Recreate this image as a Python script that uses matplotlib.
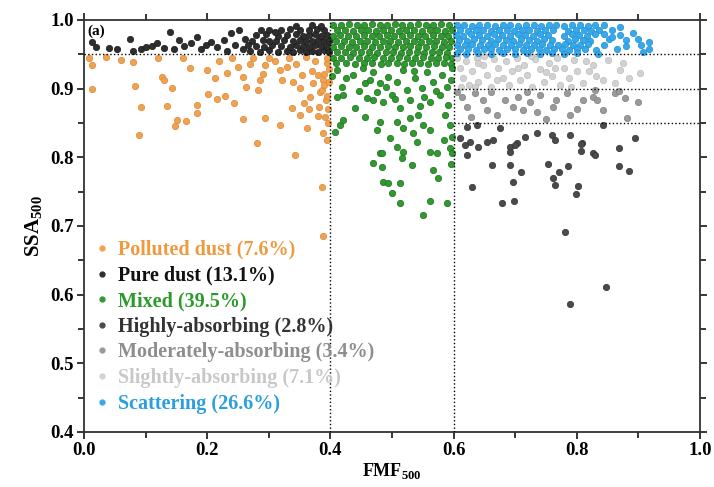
import matplotlib
matplotlib.use("Agg")
import matplotlib.pyplot as plt
from matplotlib.lines import Line2D
from matplotlib.ticker import MultipleLocator, FormatStrFormatter

plt.rcParams['font.family'] = ['Liberation Serif', 'DejaVu Serif']
plt.rcParams['font.weight'] = 'bold'
plt.rcParams['mathtext.fontset'] = 'custom'
plt.rcParams['mathtext.rm'] = 'Liberation Serif:bold'
plt.rcParams['mathtext.bf'] = 'Liberation Serif:bold'

# ---------------- data (FMF500, SSA500) ----------------
POLLUTED = [
    (0.008, 0.944), (0.013, 0.934), (0.013, 0.900), (0.035, 0.946), (0.060, 0.942), (0.080, 0.939),
    (0.083, 0.904), (0.093, 0.873), (0.089, 0.833), (0.120, 0.945), (0.127, 0.917), (0.130, 0.912),
    (0.135, 0.875), (0.143, 0.901), (0.151, 0.854), (0.148, 0.846), (0.160, 0.944), (0.166, 0.853),
    (0.172, 0.930), (0.183, 0.876), (0.184, 0.865), (0.200, 0.927), (0.201, 0.892), (0.213, 0.915),
    (0.216, 0.885), (0.220, 0.940), (0.229, 0.889), (0.232, 0.923), (0.240, 0.945), (0.243, 0.879),
    (0.250, 0.931), (0.258, 0.856), (0.258, 0.917), (0.263, 0.902), (0.270, 0.936), (0.274, 0.944),
    (0.281, 0.821), (0.286, 0.913), (0.282, 0.898), (0.290, 0.921), (0.294, 0.857), (0.294, 0.934),
    (0.300, 0.945), (0.310, 0.940), (0.318, 0.847), (0.321, 0.913), (0.318, 0.927), (0.330, 0.931),
    (0.333, 0.944), (0.339, 0.910), (0.337, 0.872), (0.343, 0.803), (0.345, 0.936), (0.350, 0.862),
    (0.351, 0.901), (0.354, 0.920), (0.357, 0.879), (0.360, 0.946), (0.362, 0.843), (0.365, 0.870),
    (0.367, 0.888), (0.370, 0.926), (0.372, 0.908), (0.375, 0.940), (0.380, 0.860), (0.382, 0.873),
    (0.380, 0.920), (0.383, 0.895), (0.386, 0.898), (0.386, 0.757), (0.388, 0.835), (0.388, 0.913),
    (0.388, 0.686), (0.390, 0.921), (0.391, 0.859), (0.390, 0.905), (0.394, 0.825), (0.394, 0.937),
    (0.393, 0.883), (0.395, 0.945), (0.395, 0.890), (0.396, 0.870), (0.396, 0.850), (0.397, 0.929),
    (0.398, 0.910),
]

PURE = [
    (0.013, 0.968), (0.020, 0.960), (0.041, 0.959), (0.054, 0.957), (0.075, 0.972), (0.079, 0.955),
    (0.093, 0.958), (0.100, 0.960), (0.110, 0.962), (0.119, 0.966), (0.130, 0.959), (0.139, 0.982),
    (0.146, 0.957), (0.154, 0.971), (0.162, 0.962), (0.174, 0.966), (0.183, 0.975), (0.190, 0.957),
    (0.198, 0.963), (0.206, 0.968), (0.216, 0.961), (0.227, 0.971), (0.232, 0.955), (0.239, 0.981),
    (0.245, 0.964), (0.252, 0.986), (0.258, 0.957), (0.262, 0.973),
    (0.270, 0.955), (0.285, 0.953), (0.300, 0.956), (0.315, 0.954), (0.330, 0.955), (0.340, 0.953),
    (0.350, 0.956), (0.360, 0.954), (0.370, 0.955), (0.380, 0.953), (0.390, 0.956), (0.398, 0.954),
    (0.266, 0.963), (0.280, 0.962), (0.292, 0.961), (0.306, 0.963), (0.320, 0.962), (0.335, 0.961),
    (0.345, 0.963), (0.355, 0.962), (0.365, 0.961), (0.375, 0.963), (0.385, 0.962), (0.395, 0.961),
    (0.273, 0.970), (0.290, 0.971), (0.300, 0.969), (0.311, 0.970), (0.325, 0.971), (0.340, 0.969),
    (0.350, 0.971), (0.360, 0.970), (0.370, 0.969), (0.380, 0.971), (0.390, 0.970), (0.398, 0.969),
    (0.280, 0.978), (0.296, 0.979), (0.315, 0.977), (0.330, 0.978), (0.345, 0.979), (0.355, 0.977),
    (0.365, 0.978), (0.375, 0.979), (0.385, 0.977), (0.395, 0.978),
    (0.300, 0.986), (0.320, 0.985), (0.335, 0.987), (0.350, 0.985), (0.365, 0.986), (0.378, 0.987),
    (0.390, 0.985), (0.345, 0.991), (0.370, 0.992), (0.385, 0.991), (0.310, 0.983), (0.287, 0.985),
]

MIXED = [
    # dense upper band
    (0.405, 0.993), (0.418, 0.992), (0.430, 0.994), (0.443, 0.993), (0.455, 0.992), (0.468, 0.994),
    (0.480, 0.993), (0.492, 0.992), (0.505, 0.994), (0.517, 0.993), (0.530, 0.992), (0.542, 0.994),
    (0.555, 0.993), (0.567, 0.992), (0.580, 0.994), (0.592, 0.993),
    (0.410, 0.985), (0.423, 0.986), (0.436, 0.984), (0.449, 0.985), (0.461, 0.986), (0.474, 0.984),
    (0.486, 0.985), (0.498, 0.986), (0.511, 0.984), (0.523, 0.985), (0.536, 0.986), (0.548, 0.984),
    (0.561, 0.985), (0.573, 0.986), (0.586, 0.984), (0.597, 0.985),
    (0.404, 0.977), (0.416, 0.978), (0.429, 0.976), (0.442, 0.977), (0.455, 0.978), (0.467, 0.976),
    (0.479, 0.977), (0.492, 0.978), (0.504, 0.976), (0.517, 0.977), (0.529, 0.978), (0.542, 0.976),
    (0.554, 0.977), (0.566, 0.978), (0.579, 0.976), (0.591, 0.977),
    (0.409, 0.969), (0.422, 0.970), (0.435, 0.968), (0.448, 0.969), (0.460, 0.970), (0.473, 0.968),
    (0.485, 0.969), (0.497, 0.970), (0.510, 0.968), (0.522, 0.969), (0.535, 0.970), (0.547, 0.968),
    (0.560, 0.969), (0.572, 0.970), (0.584, 0.968), (0.596, 0.969),
    (0.405, 0.961), (0.417, 0.962), (0.430, 0.960), (0.442, 0.961), (0.454, 0.962), (0.467, 0.960),
    (0.480, 0.961), (0.493, 0.962), (0.505, 0.960), (0.518, 0.961), (0.530, 0.962), (0.543, 0.960),
    (0.556, 0.961), (0.568, 0.962), (0.581, 0.960), (0.593, 0.961),
    (0.410, 0.953), (0.424, 0.954), (0.437, 0.952), (0.450, 0.953), (0.463, 0.954), (0.476, 0.952),
    (0.490, 0.953), (0.502, 0.954), (0.515, 0.952), (0.527, 0.953), (0.540, 0.954), (0.552, 0.952),
    (0.565, 0.953), (0.577, 0.954), (0.590, 0.952),
    (0.404, 0.945), (0.418, 0.944), (0.432, 0.946), (0.447, 0.945), (0.459, 0.944), (0.471, 0.946),
    (0.486, 0.945), (0.499, 0.944), (0.512, 0.946), (0.524, 0.945), (0.537, 0.944), (0.550, 0.946),
    (0.563, 0.945), (0.575, 0.944), (0.588, 0.946), (0.598, 0.945),
    (0.409, 0.937), (0.426, 0.938), (0.440, 0.936), (0.455, 0.937), (0.468, 0.938), (0.482, 0.936),
    (0.494, 0.937), (0.508, 0.938), (0.520, 0.936), (0.533, 0.937), (0.546, 0.938), (0.558, 0.936),
    (0.571, 0.937), (0.584, 0.938), (0.596, 0.936),
    # medium zone
    (0.410, 0.927), (0.419, 0.902), (0.420, 0.891), (0.437, 0.920), (0.440, 0.872), (0.453, 0.930),
    (0.456, 0.908), (0.459, 0.886), (0.469, 0.924), (0.476, 0.895), (0.481, 0.908), (0.485, 0.881),
    (0.494, 0.917), (0.500, 0.891), (0.508, 0.910), (0.513, 0.872), (0.518, 0.927), (0.524, 0.898),
    (0.529, 0.883), (0.537, 0.916), (0.542, 0.862), (0.549, 0.901), (0.557, 0.924), (0.562, 0.881),
    (0.567, 0.910), (0.578, 0.891), (0.581, 0.920), (0.589, 0.902), (0.591, 0.876), (0.597, 0.930),
    (0.586, 0.862), (0.425, 0.915), (0.447, 0.897), (0.465, 0.912), (0.490, 0.902), (0.535, 0.925),
    (0.552, 0.888), (0.572, 0.897), (0.596, 0.912), (0.403, 0.918), (0.505, 0.885), (0.545, 0.875),
    # sparse lower zone
    (0.456, 0.859), (0.481, 0.851), (0.476, 0.840), (0.508, 0.851), (0.518, 0.843), (0.529, 0.857),
    (0.550, 0.847), (0.562, 0.840), (0.534, 0.835), (0.416, 0.847), (0.407, 0.837), (0.594, 0.847),
    (0.420, 0.854), (0.410, 0.888), (0.469, 0.883), (0.481, 0.806), (0.508, 0.815), (0.518, 0.808),
    (0.516, 0.799), (0.562, 0.808), (0.573, 0.806), (0.594, 0.814), (0.597, 0.806), (0.532, 0.789),
    (0.567, 0.782), (0.484, 0.806), (0.484, 0.786), (0.485, 0.764), (0.494, 0.763), (0.513, 0.763),
    (0.500, 0.748), (0.513, 0.733), (0.562, 0.736), (0.589, 0.733), (0.550, 0.716), (0.469, 0.792),
    (0.598, 0.830), (0.596, 0.790), (0.575, 0.770), (0.585, 0.825), (0.540, 0.822), (0.497, 0.828),
]

SCATTERING = [
    (0.605, 0.992), (0.617, 0.993), (0.630, 0.991), (0.642, 0.992), (0.655, 0.993), (0.667, 0.991),
    (0.680, 0.992), (0.692, 0.993), (0.705, 0.991), (0.717, 0.992), (0.730, 0.993), (0.742, 0.991),
    (0.755, 0.992), (0.767, 0.993), (0.780, 0.991), (0.792, 0.992), (0.805, 0.993), (0.818, 0.991),
    (0.830, 0.992), (0.845, 0.993),
    (0.610, 0.985), (0.623, 0.984), (0.636, 0.986), (0.648, 0.985), (0.661, 0.984), (0.673, 0.986),
    (0.686, 0.985), (0.698, 0.984), (0.711, 0.986), (0.723, 0.985), (0.736, 0.984), (0.748, 0.986),
    (0.761, 0.985), (0.786, 0.984), (0.798, 0.986), (0.811, 0.985), (0.823, 0.984), (0.836, 0.986),
    (0.858, 0.985),
    (0.604, 0.978), (0.616, 0.977), (0.629, 0.979), (0.641, 0.978), (0.654, 0.977), (0.666, 0.979),
    (0.679, 0.978), (0.691, 0.977), (0.704, 0.979), (0.716, 0.978), (0.729, 0.977), (0.741, 0.979),
    (0.754, 0.978), (0.779, 0.977), (0.792, 0.979), (0.804, 0.978), (0.817, 0.977), (0.829, 0.979),
    (0.870, 0.978),
    (0.609, 0.971), (0.622, 0.970), (0.634, 0.972), (0.647, 0.971), (0.660, 0.970), (0.672, 0.972),
    (0.685, 0.971), (0.697, 0.970), (0.710, 0.972), (0.722, 0.971), (0.735, 0.970), (0.747, 0.972),
    (0.760, 0.971), (0.785, 0.970), (0.797, 0.972), (0.810, 0.971), (0.822, 0.970), (0.852, 0.972),
    (0.880, 0.971),
    (0.605, 0.964), (0.618, 0.963), (0.630, 0.965), (0.643, 0.964), (0.656, 0.963), (0.668, 0.965),
    (0.681, 0.964), (0.693, 0.963), (0.706, 0.965), (0.718, 0.964), (0.731, 0.963), (0.744, 0.965),
    (0.756, 0.964), (0.769, 0.963), (0.781, 0.965), (0.794, 0.964), (0.806, 0.963), (0.819, 0.965),
    (0.845, 0.964), (0.905, 0.963),
    (0.610, 0.957), (0.623, 0.958), (0.636, 0.956), (0.649, 0.957), (0.661, 0.958), (0.674, 0.956),
    (0.687, 0.957), (0.700, 0.958), (0.712, 0.956), (0.725, 0.957), (0.738, 0.958), (0.750, 0.956),
    (0.763, 0.957), (0.776, 0.958), (0.788, 0.956), (0.800, 0.957), (0.813, 0.958), (0.832, 0.956),
    (0.865, 0.957), (0.917, 0.958),
    (0.605, 0.952), (0.620, 0.951), (0.640, 0.952), (0.660, 0.951), (0.680, 0.952), (0.700, 0.951),
    (0.720, 0.952), (0.740, 0.951), (0.760, 0.952), (0.780, 0.951), (0.800, 0.952), (0.835, 0.951),
    (0.907, 0.953), (0.891, 0.981), (0.870, 0.990), (0.880, 0.962), (0.900, 0.972), (0.917, 0.968),
    (0.858, 0.975), (0.845, 0.980),
]

SLIGHTLY = [
    (0.605, 0.945), (0.610, 0.930), (0.615, 0.915), (0.620, 0.940), (0.625, 0.905), (0.630, 0.925),
    (0.638, 0.945), (0.640, 0.910), (0.648, 0.935), (0.655, 0.920), (0.660, 0.903), (0.665, 0.943),
    (0.672, 0.930), (0.680, 0.915), (0.685, 0.940), (0.690, 0.905), (0.695, 0.925), (0.703, 0.945),
    (0.708, 0.912), (0.715, 0.935), (0.720, 0.920), (0.728, 0.902), (0.733, 0.943), (0.740, 0.928),
    (0.747, 0.910), (0.755, 0.938), (0.760, 0.918), (0.768, 0.945), (0.773, 0.905), (0.780, 0.930),
    (0.788, 0.915), (0.795, 0.942), (0.800, 0.925), (0.810, 0.908), (0.815, 0.940), (0.826, 0.934),
    (0.832, 0.918), (0.843, 0.913), (0.850, 0.942), (0.862, 0.908), (0.870, 0.927), (0.875, 0.937),
    (0.885, 0.915), (0.903, 0.923), (0.612, 0.903), (0.635, 0.902), (0.650, 0.948), (0.670, 0.912),
    (0.705, 0.930), (0.725, 0.948), (0.750, 0.924), (0.765, 0.930), (0.790, 0.902), (0.820, 0.925),
    (0.640, 0.938),
]

MODERATELY = [
    (0.605, 0.895), (0.614, 0.888), (0.622, 0.873), (0.635, 0.894), (0.648, 0.883), (0.654, 0.869),
    (0.670, 0.862), (0.683, 0.883), (0.696, 0.873), (0.704, 0.888), (0.713, 0.869), (0.724, 0.881),
    (0.735, 0.866), (0.740, 0.891), (0.761, 0.873), (0.767, 0.883), (0.784, 0.894), (0.789, 0.862),
    (0.810, 0.883), (0.826, 0.888), (0.833, 0.883), (0.843, 0.869), (0.830, 0.898), (0.862, 0.894),
    (0.868, 0.897), (0.878, 0.886), (0.899, 0.881), (0.628, 0.858), (0.660, 0.895), (0.750, 0.856),
    (0.800, 0.870), (0.720, 0.895), (0.881, 0.857),
]

HIGHLY = [
    (0.622, 0.844), (0.638, 0.847), (0.610, 0.828), (0.627, 0.822), (0.640, 0.815), (0.654, 0.822),
    (0.664, 0.825), (0.675, 0.843), (0.692, 0.815), (0.703, 0.821), (0.716, 0.830), (0.735, 0.835),
    (0.760, 0.833), (0.764, 0.825), (0.789, 0.833), (0.808, 0.821), (0.826, 0.806), (0.843, 0.847),
    (0.894, 0.828), (0.868, 0.813), (0.830, 0.803), (0.619, 0.818), (0.622, 0.803), (0.630, 0.757),
    (0.662, 0.789), (0.679, 0.733), (0.692, 0.808), (0.692, 0.789), (0.696, 0.764), (0.698, 0.736),
    (0.709, 0.779), (0.700, 0.818), (0.753, 0.790), (0.761, 0.770), (0.764, 0.760), (0.771, 0.779),
    (0.786, 0.787), (0.802, 0.758), (0.799, 0.747), (0.807, 0.819), (0.807, 0.809), (0.868, 0.787),
    (0.885, 0.780), (0.781, 0.691), (0.847, 0.611), (0.789, 0.586),
]

LABELS = ["Polluted dust (7.6%)", "Pure dust (13.1%)", "Mixed (39.5%)", "Highly-absorbing (2.8%)",
          "Moderately-absorbing (3.4%)", "Slightly-absorbing (7.1%)", "Scattering (26.6%)"]
POINT_COLORS = ["#F2A24E", "#2E2E2E", "#2F9A2F", "#4A4A4A", "#9A9A9A", "#D2D2D2", "#35A9EC"]
EDGE_COLORS = ["#D9893A", "#1A1A1A", "#1E6E1E", "#333333", "#808080", "#BDBDBD", "#2490D0"]
TEXT_COLORS = ["#EE9A3E", "#111111", "#2A9A2A", "#333333", "#8E8E8E", "#C8C8C8", "#2A9FE0"]
SERIES = [POLLUTED, PURE, MIXED, HIGHLY, MODERATELY, SLIGHTLY, SCATTERING]

XLABEL = r"FMF$_{500}$"
YLABEL = r"SSA$_{500}$"
PANEL = "(a)"

# ---------------- figure ----------------
fig = plt.figure(figsize=(7.14, 4.87), dpi=100)
ax = fig.add_axes([0.1176, 0.113, 0.8627, 0.846])

for pts, fc, ec in zip(SERIES, POINT_COLORS, EDGE_COLORS):
    xs = [p[0] for p in pts]
    ys = [p[1] for p in pts]
    ax.scatter(xs, ys, s=21, c=fc, edgecolors=ec, linewidths=0.5, zorder=3)

# class boundary lines
ax.axvline(0.4, color="black", ls=":", lw=1.0, zorder=4)
ax.axvline(0.6, color="black", ls=":", lw=1.0, zorder=4)
ax.plot([0.0, 0.4], [0.95, 0.95], color="black", ls=":", lw=1.0, zorder=4)
ax.plot([0.6, 1.0], [0.95, 0.95], color="black", ls=":", lw=1.0, zorder=4)
ax.plot([0.6, 1.0], [0.90, 0.90], color="black", ls=":", lw=1.0, zorder=4)
ax.plot([0.6, 1.0], [0.85, 0.85], color="black", ls=":", lw=1.0, zorder=4)

ax.set_xlim(0.0, 1.0)
ax.set_ylim(0.4, 1.0)
ax.xaxis.set_major_locator(MultipleLocator(0.2))
ax.xaxis.set_minor_locator(MultipleLocator(0.1))
ax.yaxis.set_major_locator(MultipleLocator(0.1))
ax.yaxis.set_minor_locator(MultipleLocator(0.05))
ax.tick_params(which="both", direction="out", top=True, right=True, width=1.1, labelsize=13.5, pad=2)
ax.tick_params(which="major", length=5)
ax.tick_params(which="minor", length=4)
ax.xaxis.set_major_formatter(FormatStrFormatter("%.1f"))
ax.yaxis.set_major_formatter(FormatStrFormatter("%.1f"))
for lab in ax.get_xticklabels() + ax.get_yticklabels():
    lab.set_fontweight("bold")
for sp in ax.spines.values():
    sp.set_linewidth(1.3)
    sp.set_color("#333333")

ax.set_xlabel(XLABEL, fontsize=13, fontweight="bold", labelpad=2)
ax.set_ylabel(YLABEL, fontsize=15, fontweight="bold", labelpad=4)
ax.text(0.005, 0.993, PANEL, fontsize=11, fontweight="bold", va="top", ha="left", zorder=5)

handles = [Line2D([], [], ls="none", marker="o", markersize=3.5, markerfacecolor=c,
                  markeredgecolor=c) for c in POINT_COLORS]
leg = ax.legend(handles, LABELS, loc="lower left", bbox_to_anchor=(-0.004, 0.01), frameon=False,
                prop={"family": "Liberation Serif", "weight": "bold", "size": 14.5},
                handlelength=0.6, handletextpad=0.5, labelspacing=0.28, borderaxespad=0.3)
for t, c in zip(leg.get_texts(), TEXT_COLORS):
    t.set_color(c)

fig.savefig("out.png", dpi=100)
